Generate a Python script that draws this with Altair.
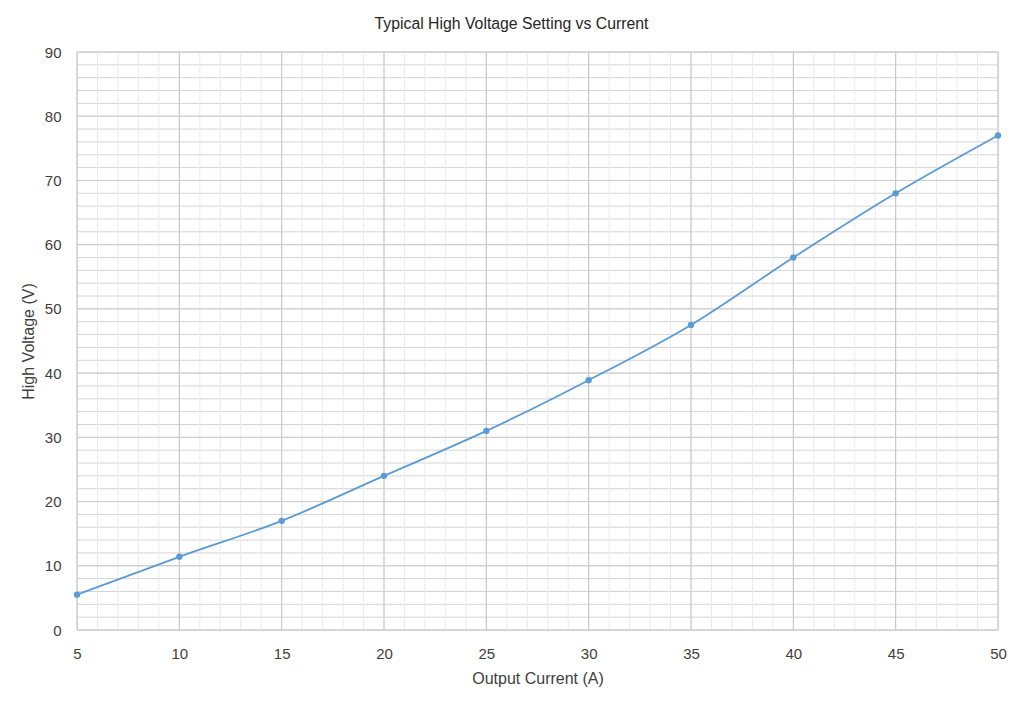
import altair as alt
import pandas as pd

current = [5, 10, 15, 20, 25, 30, 35, 40, 45, 50]
voltage = [5.5, 11.4, 17.0, 24.0, 31.0, 38.9, 47.5, 58.0, 68.0, 77.0]

x_major = [5, 10, 15, 20, 25, 30, 35, 40, 45, 50]
x_minor = list(range(5, 51))
y_minor = list(range(0, 91, 2))
y_major = list(range(0, 91, 10))

FONT = "Liberation Sans"
TXT = "#404040"

xs = alt.Scale(domain=[5, 50], nice=False, zero=False)
ys = alt.Scale(domain=[0, 90], nice=False)

xaxis = alt.Axis(
    values=x_major,
    title="Output Current (A)",
    grid=False,
    domain=False,
    ticks=False,
    labelFlush=False,
    labelPadding=16,
    labelFontSize=15,
    labelColor=TXT,
    labelFont=FONT,
    titleFont=FONT,
    titleFontSize=16,
    titleFontWeight="normal",
    titleColor=TXT,
    titlePadding=9,
)
yaxis = alt.Axis(
    values=y_major,
    title="High Voltage (V)",
    grid=False,
    domain=False,
    ticks=False,
    labelFlush=False,
    labelPadding=16,
    labelFontSize=15,
    labelColor=TXT,
    labelFont=FONT,
    titleFont=FONT,
    titleFontSize=16,
    titleFontWeight="normal",
    titleColor=TXT,
    titlePadding=8,
)

df = pd.DataFrame({"current": current, "voltage": voltage})

ymin_rules = alt.Chart(pd.DataFrame({"v": y_minor})).mark_rule(
    color="#d4d4d4", strokeWidth=1
).encode(y=alt.Y("v:Q", scale=ys, axis=yaxis))

xmin_rules = alt.Chart(pd.DataFrame({"v": x_minor})).mark_rule(
    color="#ebebeb", strokeWidth=1
).encode(x=alt.X("v:Q", scale=xs, axis=xaxis))

xmaj_rules = alt.Chart(pd.DataFrame({"v": x_major})).mark_rule(
    color="#c2c2c2", strokeWidth=1
).encode(x=alt.X("v:Q", scale=xs, axis=xaxis))

ymaj_rules = alt.Chart(pd.DataFrame({"v": y_major})).mark_rule(
    color="#cccccc", strokeWidth=1
).encode(y=alt.Y("v:Q", scale=ys, axis=yaxis))

base = alt.Chart(df).encode(
    x=alt.X("current:Q", scale=xs, axis=xaxis),
    y=alt.Y("voltage:Q", scale=ys, axis=yaxis),
)

line = base.mark_line(color="#5b9bd5", strokeWidth=1.8, interpolate="monotone")
pts = base.mark_circle(color="#5b9bd5", size=40, opacity=1)

chart = (
    alt.layer(ymin_rules, xmin_rules, xmaj_rules, ymaj_rules, line, pts)
    .properties(
        width=921,
        height=578,
        autosize=alt.AutoSizeParams(type="none"),
        padding={"left": 69, "top": 44, "right": 16, "bottom": 67},
        title=alt.TitleParams(
            "Typical High Voltage Setting vs Current",
            font=FONT,
            fontSize=15.8,
            fontWeight="normal",
            color="#262626",
            anchor="middle",
            dx=-26,
            offset=12,
        ),
    )
    .configure_view(stroke=None)
    .configure(background="white")
)

chart.save("out.html", embed_options={"renderer": "svg", "actions": False})
